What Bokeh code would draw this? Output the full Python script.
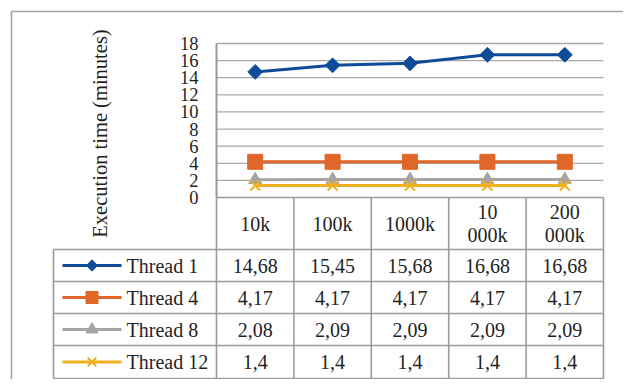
import numpy as np
from bokeh.plotting import figure
from bokeh.models import ColumnDataSource, Range1d
from bokeh.embed import file_html
from bokeh.resources import INLINE
from bokeh.core.properties import value

# ---------------- data ----------------
categories = ["10k", "100k", "1000k", "10 000k", "200 000k"]
series_names = ["Thread 1", "Thread 4", "Thread 8", "Thread 12"]
thread_1 = [14.68, 15.45, 15.68, 16.68, 16.68]
thread_4 = [4.17, 4.17, 4.17, 4.17, 4.17]
thread_8 = [2.08, 2.09, 2.09, 2.09, 2.09]
thread_12 = [1.4, 1.4, 1.4, 1.4, 1.4]
y_ticks = [0, 2, 4, 6, 8, 10, 12, 14, 16, 18]
y_title = "Execution time (minutes)"

series_values = [thread_1, thread_4, thread_8, thread_12]
colors = ["#0E4C9A", "#E0662A", "#A5A5A5", "#F0B020"]

# ---------------- layout ----------------
W, H = 623, 379
PX = 77.4          # pixels per category column
PY = 154.0 / 18.0  # pixels per y unit
X0_REF, Y0_REF = 216.0, 197.0   # reference pixel of (x=-0.5, y=0)
MARGIN = 0.0


def fx(ref_x):
    return -0.5 + (ref_x - X0_REF) / PX


def fy(ref_y):
    return (Y0_REF - ref_y) / PY


x_start = fx(MARGIN)
y_end = fy(MARGIN)
p = figure(width=W, height=H,
           x_range=Range1d(x_start, x_start + W / PX),
           y_range=Range1d(y_end - H / PY, y_end),
           x_axis_type=None, y_axis_type=None,
           output_backend="svg", toolbar_location=None, min_border=0)
p.grid.visible = False
p.outline_line_color = None
p.background_fill_color = "white"
p.border_fill_color = "white"

FONT = value("Liberation Serif")
TXT = "#1f1f1f"
GRID = "#A9A9A9"
TBL = "#9A9A9A"

xs = list(range(len(categories)))
x_left, x_right = -0.5, len(categories) - 0.5
y_max = max(y_ticks)

# outer frame (top and left only visible)
p.segment(x0=[fx(11), fx(11)], y0=[fy(11), fy(11)], x1=[fx(640), fx(11)], y1=[fy(11), fy(400)],
          line_color="#A0A0A0", line_width=1.5)

# gridlines
grid_y = [t for t in y_ticks if t > 0]
p.segment(x0=[x_left] * len(grid_y), y0=grid_y, x1=[x_right] * len(grid_y), y1=grid_y,
          line_color=GRID, line_width=1.3)

# y tick labels
p.text(x=[fx(198)] * len(y_ticks), y=y_ticks, text=[str(t) for t in y_ticks],
       text_font=FONT, text_font_size="18.5px", text_align="right",
       text_baseline="middle", text_color=TXT)

# y axis title
p.text(x=[fx(99)], y=[fy(133)], text=[y_title], angle=np.pi / 2,
       text_font=FONT, text_font_size="20.5px", text_align="center",
       text_baseline="middle", text_color=TXT)

# ---------------- table ----------------
row_edges_ref = [197, 249, 281, 313, 345, 378]
row_edges = [fy(r) for r in row_edges_ref]
legend_left = fx(53)

hx0 = [x_left] + [legend_left] * (len(row_edges) - 1)
p.segment(x0=hx0, y0=row_edges, x1=[x_right] * len(row_edges), y1=row_edges,
          line_color=TBL, line_width=1.6)
col_edges = [x_left + i for i in range(len(categories) + 1)]
p.segment(x0=col_edges, y0=[0] * len(col_edges), x1=col_edges, y1=[row_edges[-1]] * len(col_edges),
          line_color=TBL, line_width=1.6)
p.segment(x0=[legend_left], y0=[row_edges[1]], x1=[legend_left], y1=[row_edges[-1]],
          line_color=TBL, line_width=1.6)
p.segment(x0=[x_left], y0=[0], x1=[x_left], y1=[y_max], line_color="#999999", line_width=2)

header_y = (row_edges[0] + row_edges[1]) / 2
p.text(x=xs, y=[header_y] * len(xs), text=[c.replace(" ", "\n") for c in categories],
       text_font=FONT, text_font_size="20px", text_align="center",
       text_baseline="middle", text_color=TXT, text_line_height=1.05)

row_centers = [(row_edges[i + 1] + row_edges[i + 2]) / 2 for i in range(len(series_names))]


def fmt(v):
    return f"{v:g}".replace(".", ",")


leg_x0, leg_x1, leg_xm = fx(62), fx(121), fx(91.5)
label_x = fx(126)

for i, (name, vals, col) in enumerate(zip(series_names, series_values, colors)):
    src = ColumnDataSource(dict(x=xs, y=vals, label=[fmt(v) for v in vals],
                                ty=[row_centers[i]] * len(xs)))
    p.line("x", "y", source=src, line_color=col, line_width=3)
    ry = row_centers[i]
    p.segment(x0=[leg_x0], y0=[ry], x1=[leg_x1], y1=[ry], line_color=col, line_width=3)
    if i == 0:
        p.scatter("x", "y", source=src, marker="square", angle=np.pi / 4, size=10.5,
                  fill_color=col, line_color=col)
        p.scatter(x=[leg_xm], y=[ry], marker="square", angle=np.pi / 4, size=8,
                  fill_color=col, line_color=col)
    elif i == 1:
        p.scatter("x", "y", source=src, marker="square", size=15,
                  fill_color=col, line_color=col)
        p.scatter(x=[leg_xm], y=[ry], marker="square", size=12,
                  fill_color=col, line_color=col)
    elif i == 2:
        p.scatter("x", "y", source=src, marker="triangle", size=13,
                  fill_color=col, line_color=col)
        p.scatter(x=[leg_xm], y=[ry], marker="triangle", size=12,
                  fill_color=col, line_color=col)
    else:
        p.scatter("x", "y", source=src, marker="x", size=14,
                  line_color=col, line_width=2)
        p.scatter(x=[leg_xm], y=[ry], marker="x", size=12,
                  line_color=col, line_width=2)
    p.text(x=[label_x], y=[ry], text=[name], text_font=FONT, text_font_size="20px",
           text_align="left", text_baseline="middle", text_color=TXT)
    p.text("x", "ty", text="label", source=src, text_font=FONT, text_font_size="20px",
           text_align="center", text_baseline="middle", text_color=TXT)

open("out.html", "w").write(file_html(p, INLINE))
